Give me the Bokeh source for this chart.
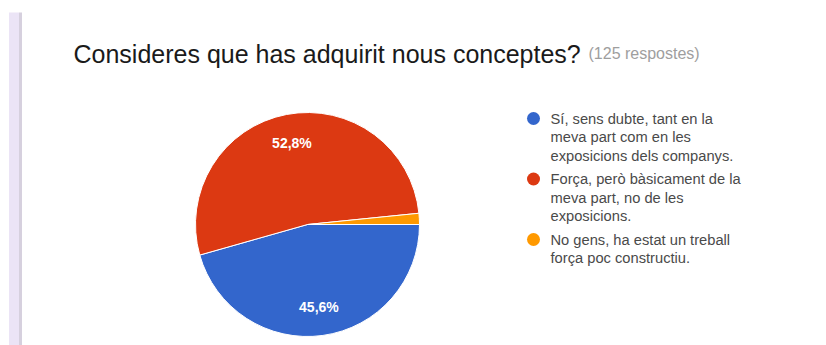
import math
from bokeh.plotting import figure
from bokeh.models import Range1d, Label, BoxAnnotation, ColumnDataSource
from bokeh.core.properties import value
from bokeh.embed import file_html
from bokeh.resources import INLINE

# ---- data ----
title_text = "Consideres que has adquirit nous conceptes?"
subtitle_text = "(125 respostes)"
categories = [
    "Sí, sens dubte, tant en la meva part com en les exposicions dels companys.",
    "Força, però bàsicament de la meva part, no de les exposicions.",
    "No gens, ha estat un treball força poc constructiu.",
]
legend_lines = [
    ["Sí, sens dubte, tant en la", "meva part com en les", "exposicions dels companys."],
    ["Força, però bàsicament de la", "meva part, no de les", "exposicions."],
    ["No gens, ha estat un treball", "força poc constructiu."],
]
counts = [57, 66, 2]
colors = ["#3366CC", "#DC3912", "#FF9900"]

# ---- layout ----
W, H = 826, 345
FONT = "Liberation Sans"

def dx(sx):
    return sx

def dy(sy):
    return H - sy

p = figure(width=W, height=H, output_backend="svg", toolbar_location=None,
           x_range=Range1d(0, W), y_range=Range1d(0, H),
           min_border=0, outline_line_color=None)
p.axis.visible = False
p.grid.visible = False
p.background_fill_color = "white"
p.border_fill_color = "white"

# left card strip
p.add_layout(BoxAnnotation(left=dx(8.5), right=dx(18.5), top=dy(12), bottom=0,
                           fill_color="#ebe4f6", fill_alpha=1, line_color=None))
p.add_layout(BoxAnnotation(left=dx(18.5), right=dx(21.5), top=dy(12), bottom=0,
                           fill_color="#d6d0de", fill_alpha=1, line_color=None))

# title
p.add_layout(Label(x=dx(73), y=dy(53), text=title_text, text_font=FONT,
                   text_font_size="25px", text_color="#1a1a1a",
                   text_baseline="alphabetic"))
p.add_layout(Label(x=dx(588), y=dy(53), text=subtitle_text, text_font=FONT,
                   text_font_size="16px", text_color="#9e9e9e",
                   text_baseline="alphabetic"))

# pie (clockwise from 3 o'clock)
total = sum(counts)
cx, cy, r = dx(307), dy(224), 112
starts, ends, cum = [], [], 0
for c in counts:
    a0 = cum / total * 2 * math.pi
    cum += c
    a1 = cum / total * 2 * math.pi
    starts.append(-a1)
    ends.append(-a0)
src = ColumnDataSource(dict(x=[cx] * len(counts), y=[cy] * len(counts),
                            start=starts, end=ends, color=colors))
p.wedge(x="x", y="y", radius=r, start_angle="start", end_angle="end",
        fill_color="color", line_color="white", line_width=1, source=src)

# slice labels
lx, ly, lt = [], [], []
for c, s, e in zip(counts, starts, ends):
    pct = c / total * 100
    if pct < 5:
        continue
    mid = (s + e) / 2
    lx.append(cx + 0.74 * r * math.cos(mid))
    ly.append(cy + 0.74 * r * math.sin(mid))
    lt.append(f"{pct:.1f}".replace(".", ",") + "%")
p.text(x=lx, y=ly, text=lt, text_font=value(FONT), text_font_size="14px",
       text_font_style="bold", text_color="white", text_align="center",
       text_baseline="middle")

# legend
line_h = 18.5
group_gap = 23.5
ly0 = 118
dot_x, dot_y, tx, ty, tt = [], [], [], [], []
yy = ly0
for lines in legend_lines:
    dot_x.append(dx(533))
    dot_y.append(dy(yy))
    for i, t in enumerate(lines):
        tx.append(dx(550))
        ty.append(dy(yy + i * line_h))
        tt.append(t)
    yy = yy + (len(lines) - 1) * line_h + group_gap
p.scatter(x=dot_x, y=dot_y, size=13, marker="circle", fill_color=colors,
          line_color=None)
p.text(x=tx, y=ty, text=tt, text_font=value(FONT), text_font_size="14.7px",
       text_color="#4a4a4a", text_align="left", text_baseline="middle")

open("out.html", "w").write(file_html(p, INLINE))
